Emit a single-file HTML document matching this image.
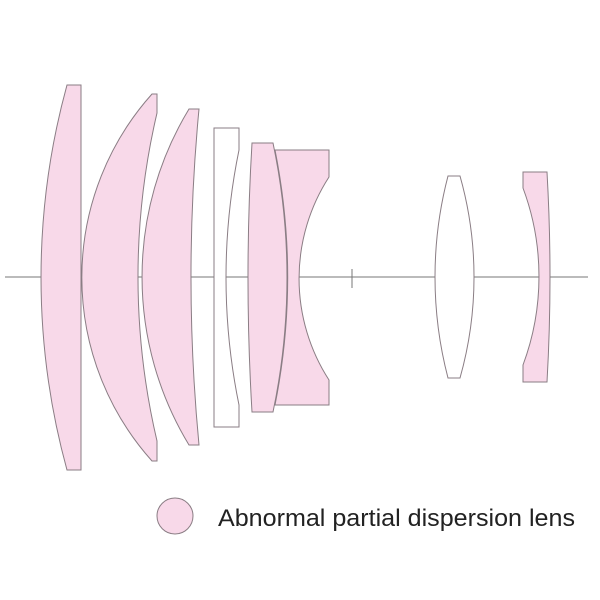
<!DOCTYPE html>
<html><head><style>body{margin:0;background:#fff}svg{display:block}</style></head>
<body>
<svg width="600" height="600" viewBox="0 0 600 600" xmlns="http://www.w3.org/2000/svg">
<g stroke="#8a7d84" stroke-width="1" fill="#f8d9e9">
<line x1="5" y1="277" x2="588" y2="277" stroke="#777"/>
<line x1="352" y1="269" x2="352" y2="288" stroke="#777"/>
<!-- L1 -->
<path d="M67,85 L81,85 L81,470 L67,470 A726,726 0 0 1 67,85 Z"/>
<!-- L2 -->
<path d="M152,94 L157,94 L157,113 A717,717 0 0 0 157,441 L157,461 L152,461 A275,275 0 0 1 152,94 Z"/>
<!-- L3 -->
<path d="M189,109 L199,109 A1768,1768 0 0 0 199,445 L189,445 A324,324 0 0 1 189,109 Z"/>
<!-- L4 white -->
<path fill="#fff" d="M214,128 L239,128 L239,150 A632,632 0 0 0 239,405 L239,427 L214,427 Z"/>
<!-- L6 -->
<path d="M275,150 L329,150 L329,177 A187,187 0 0 0 329,380 L329,405 L275,405 A653,653 0 0 0 275,150 Z"/>
<!-- L5 -->
<path d="M252,143 L273,143 A653,653 0 0 1 273,412 L252,412 A2262,2262 0 0 1 252,143 Z"/>
<!-- L7 white -->
<path fill="#fff" d="M448,176 L460,176 A371,371 0 0 1 460,378 L448,378 A399,399 0 0 1 448,176 Z"/>
<!-- L8 -->
<path d="M523,172 L547,172 A1838,1838 0 0 1 547,382 L523,382 L523,365 A253,253 0 0 0 523,188 Z"/>
<circle cx="175" cy="516" r="18"/>
</g>
<text x="218" y="526" font-family="Liberation Sans, sans-serif" font-size="24" fill="#222" textLength="357" lengthAdjust="spacingAndGlyphs">Abnormal partial dispersion lens</text>
</svg>
</body></html>
